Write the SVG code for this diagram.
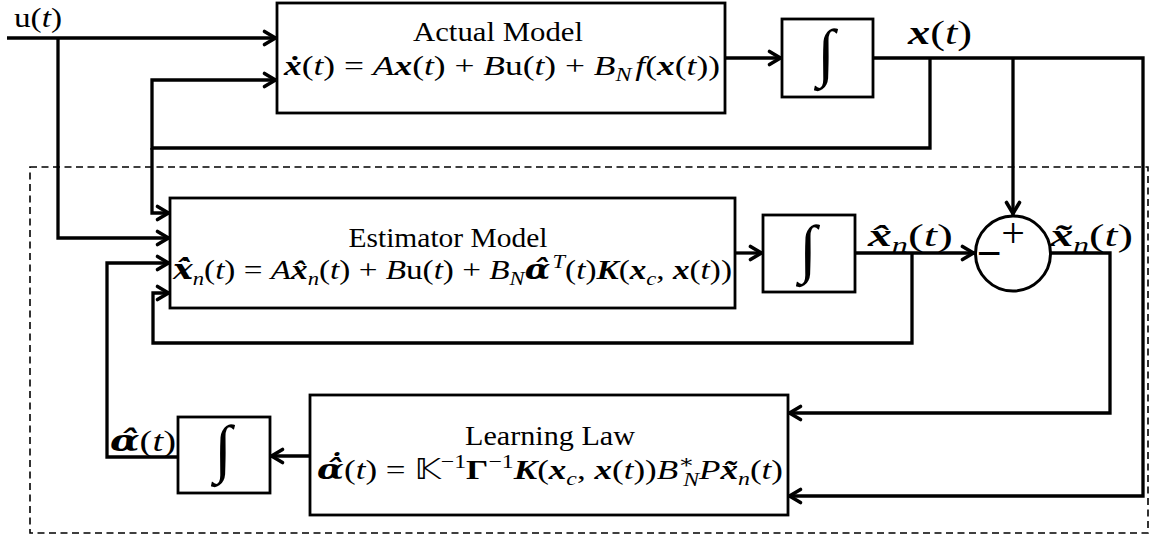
<svg xmlns="http://www.w3.org/2000/svg" width="1151" height="537" viewBox="0 0 1151 537">
<style>
.box{fill:#fff;stroke:#000;stroke-width:2.8}
.wire{fill:none;stroke:#000;stroke-width:3.3;stroke-linejoin:miter}
.arr{marker-end:url(#ah)}
.dash{fill:none;stroke:#000;stroke-width:1.6;stroke-dasharray:7 4.5}
.t{font-family:"Liberation Serif","DejaVu Serif",serif;font-size:28px;fill:#000}
.i{font-style:italic}
.bi{font-style:italic;font-weight:bold}
.dv{font-family:"DejaVu Serif",serif}
.b{font-weight:bold}
.s{font-size:19px}
.int{font-family:"Liberation Serif",serif;font-size:64px;font-style:italic;text-anchor:middle}
</style>
<defs>
<marker id="ah" markerUnits="userSpaceOnUse" markerWidth="20" markerHeight="20" viewBox="-16 -10 20 20" refX="0" refY="0" orient="auto">
<path d="M-12.5,-6.5 L-1.5,0 L-12.5,6.5" fill="none" stroke="#000" stroke-width="3.6" stroke-linejoin="round" stroke-linecap="round"/>
</marker>
</defs>
<rect width="1151" height="537" fill="#fff"/>
<rect class="dash" x="30" y="167" width="1118" height="366"/>
<g id="connectors">
<path class="wire arr" d="M7,38 H277"/>
<path class="wire arr" d="M58,38 V238 H170"/>
<path class="wire arr" d="M930,58 V148 H152 V80 H277"/>
<path class="wire arr" d="M152,148 V213 H170"/>
<path class="wire arr" d="M725,58 H782"/>
<path class="wire arr" d="M873,58 H1143 V496 H788"/>
<path class="wire arr" d="M1013,58 V215"/>
<path class="wire arr" d="M735,253 H763"/>
<path class="wire arr" d="M855,253 H975"/>
<path class="wire arr" d="M912,253 V343 H153 V293 H170"/>
<path class="wire arr" d="M1050,253 H1110 V413 H788"/>
<path class="wire arr" d="M310,456 H270"/>
<path class="wire arr" d="M178,457 H107 V263 H170"/>
</g>
<g id="actual-model">
<rect class="box" x="277" y="3" width="448" height="110"/>
<text class="t" x="498" y="41" text-anchor="middle" textLength="170" lengthAdjust="spacingAndGlyphs">Actual Model</text>
<text class="t" x="284" y="75" textLength="436" lengthAdjust="spacingAndGlyphs"><tspan class="bi">ẋ</tspan>(<tspan class="i">t</tspan>) = <tspan class="i">A</tspan><tspan class="bi">x</tspan>(<tspan class="i">t</tspan>) + <tspan class="i">B</tspan>u(<tspan class="i">t</tspan>) + <tspan class="i">B</tspan><tspan class="i s" dy="6">N</tspan><tspan class="i" dy="-6" dx="3">f</tspan>(<tspan class="bi">x</tspan>(<tspan class="i">t</tspan>))</text>
</g>
<g id="integrator-1">
<rect class="box" x="782" y="19" width="91" height="78"/>
<text class="t int" x="826" y="74">∫</text>
</g>
<g id="estimator-model">
<rect class="box" x="170" y="198" width="565" height="110"/>
<text class="t" x="448" y="247" text-anchor="middle" textLength="199" lengthAdjust="spacingAndGlyphs">Estimator Model</text>
<text class="t" x="173" y="279" textLength="559" lengthAdjust="spacingAndGlyphs"><tspan class="bi dv">x̂̇</tspan><tspan class="i s" dy="6">n</tspan><tspan dy="-6">(</tspan><tspan class="i">t</tspan>) = <tspan class="i">A</tspan><tspan class="bi">x̂</tspan><tspan class="i s" dy="6">n</tspan><tspan dy="-6">(</tspan><tspan class="i">t</tspan>) + <tspan class="i">B</tspan>u(<tspan class="i">t</tspan>) + <tspan class="i">B</tspan><tspan class="i s" dy="6">N</tspan><tspan class="bi dv" dy="-6">α̂</tspan><tspan class="i s" dy="-11" dx="2">T</tspan><tspan dy="11">(</tspan><tspan class="i">t</tspan>)<tspan class="bi">K</tspan>(<tspan class="bi">x</tspan><tspan class="i s" dy="6">c</tspan><tspan dy="-6">, </tspan><tspan class="bi">x</tspan>(<tspan class="i">t</tspan>))</text>
</g>
<g id="integrator-2">
<rect class="box" x="763" y="215" width="92" height="77"/>
<text class="t int" x="808" y="270">∫</text>
</g>
<g id="summing-junction">
<circle cx="1013" cy="253.5" r="37.5" fill="#fff" stroke="#000" stroke-width="3"/>
<text class="t" x="1013" y="247" text-anchor="middle" style="font-size:42px">+</text>
<text class="t" x="989" y="268" text-anchor="middle" font-weight="bold" style="font-size:44px">−</text>
</g>
<g id="learning-law">
<rect class="box" x="310" y="395" width="478" height="120"/>
<text class="t" x="550" y="445" text-anchor="middle" textLength="170" lengthAdjust="spacingAndGlyphs">Learning Law</text>
<text class="t" x="317" y="479" textLength="466" lengthAdjust="spacingAndGlyphs"><tspan class="bi dv">α̂̇</tspan>(<tspan class="i">t</tspan>) = <tspan font-family="DejaVu Sans">𝕂</tspan><tspan class="s" dy="-11">−1</tspan><tspan class="b" dy="11">Γ</tspan><tspan class="s" dy="-11">−1</tspan><tspan class="bi" dy="11">K</tspan>(<tspan class="bi">x</tspan><tspan class="i s" dy="6">c</tspan><tspan dy="-6">, </tspan><tspan class="bi">x</tspan>(<tspan class="i">t</tspan>))<tspan class="i">B</tspan><tspan class="s" dy="-11">∗</tspan><tspan class="i s" dx="-9" dy="18">N</tspan><tspan class="i" dy="-7">P</tspan><tspan class="bi">x̃</tspan><tspan class="i s" dy="6">n</tspan><tspan dy="-6">(</tspan><tspan class="i">t</tspan>)</text>
</g>
<g id="integrator-3">
<rect class="box" x="178" y="417" width="92" height="76"/>
<text class="t int" x="223" y="470">∫</text>
</g>
<g id="labels">
<text class="t" x="14" y="27" textLength="48" lengthAdjust="spacingAndGlyphs">u(<tspan class="i">t</tspan>)</text>
<text class="t" x="908" y="44" style="font-size:33px" textLength="64" lengthAdjust="spacingAndGlyphs"><tspan class="bi">x</tspan>(<tspan class="i">t</tspan>)</text>
<text class="t" x="868" y="246" style="font-size:31px" textLength="85" lengthAdjust="spacingAndGlyphs"><tspan class="bi">x̂</tspan><tspan class="i" font-size="21" dy="6">n</tspan><tspan dy="-6">(</tspan><tspan class="i">t</tspan>)</text>
<text class="t" x="1050" y="246" style="font-size:31px" textLength="83" lengthAdjust="spacingAndGlyphs"><tspan class="bi">x̃</tspan><tspan class="i" font-size="21" dy="6">n</tspan><tspan dy="-6">(</tspan><tspan class="i">t</tspan>)</text>
<text class="t" x="110" y="451" style="font-size:30px" textLength="66" lengthAdjust="spacingAndGlyphs"><tspan class="bi dv">α̂</tspan>(<tspan class="i">t</tspan>)</text>
</g>
</svg>
